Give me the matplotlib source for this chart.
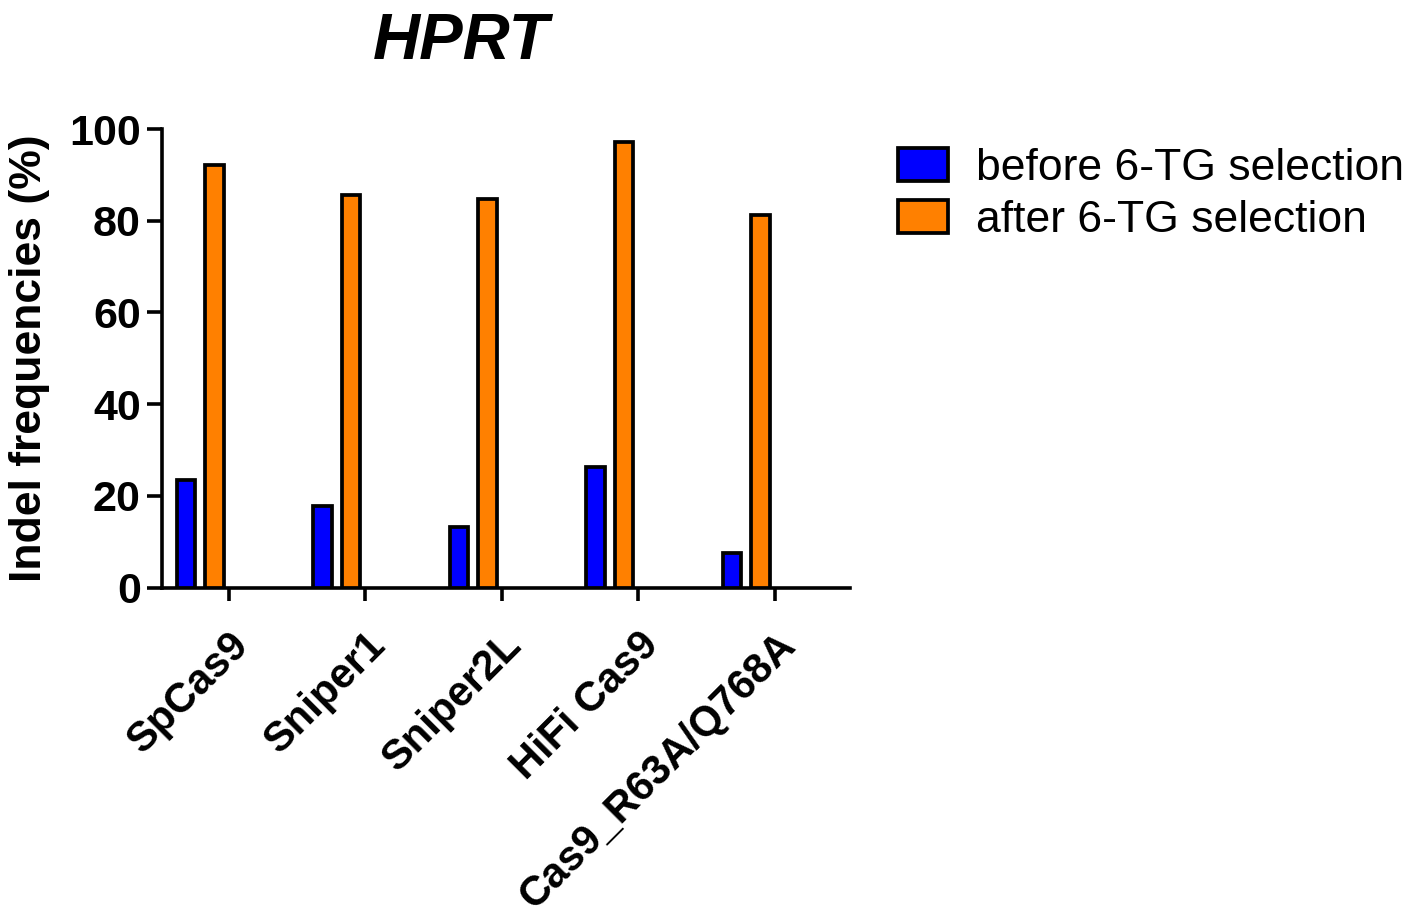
import matplotlib
matplotlib.use("Agg")
import matplotlib.pyplot as plt
import numpy as np

categories = ["SpCas9", "Sniper1", "Sniper2L", "HiFi Cas9", "Cas9_R63A/Q768A"]
before_vals = [23.5, 17.8, 13.2, 26.4, 7.6]
after_vals = [92.1, 85.7, 84.7, 97.2, 81.3]
series_labels = ["before 6-TG selection", "after 6-TG selection"]
yticks = [0, 20, 40, 60, 80, 100]

plt.rcParams['font.family'] = ['Liberation Sans', 'DejaVu Sans']

W, H = 1406, 919
fig = plt.figure(figsize=(W / 100, H / 100), dpi=100)
ax = fig.add_axes([161.7 / W, 1 - 587.7 / H, (850 - 161.7) / W, (587.7 - 129) / H])

x = np.arange(len(categories))
bw = 0.135
lw = 2.7
b1 = ax.bar(x - 0.315, before_vals, width=bw, color="#0000ff", edgecolor="black", linewidth=lw,
            label=series_labels[0], zorder=3)
b2 = ax.bar(x - 0.106, after_vals, width=bw, color="#ff8000", edgecolor="black", linewidth=lw,
            label=series_labels[1], zorder=3)

ax.set_xlim(-0.493, 4.55)
ax.set_ylim(0, 100)
ax.set_yticks(yticks)
ax.set_yticklabels([str(v) for v in yticks], fontsize=31, fontweight="bold")
ax.set_xticks(x)
ax.set_xticklabels(categories, fontsize=30, fontweight="bold", rotation=45,
                   ha="right", va="top", rotation_mode="anchor")
for s in ["top", "right"]:
    ax.spines[s].set_visible(False)
for s in ["left", "bottom"]:
    ax.spines[s].set_linewidth(2.6)
ax.tick_params(axis="y", length=11, width=2.6, pad=4)
ax.tick_params(axis="x", length=9, width=2.6, pad=18)
ax.set_ylabel("Indel frequencies (%)", fontsize=32, fontweight="bold", labelpad=14)

fig.text(461 / W, 1 - 42 / H, "HPRT", fontsize=47, fontweight="bold", fontstyle="italic",
         ha="center", va="center")

leg = fig.legend(handles=[b1, b2], labels=series_labels, loc="upper left",
                 bbox_to_anchor=(880 / W, 1 - 130 / H), frameon=False, fontsize=32,
                 handlelength=1.13, handleheight=0.77, handletextpad=0.63, labelspacing=0.25,
                 borderaxespad=0)

fig.savefig("out.png", dpi=100, facecolor="white")
